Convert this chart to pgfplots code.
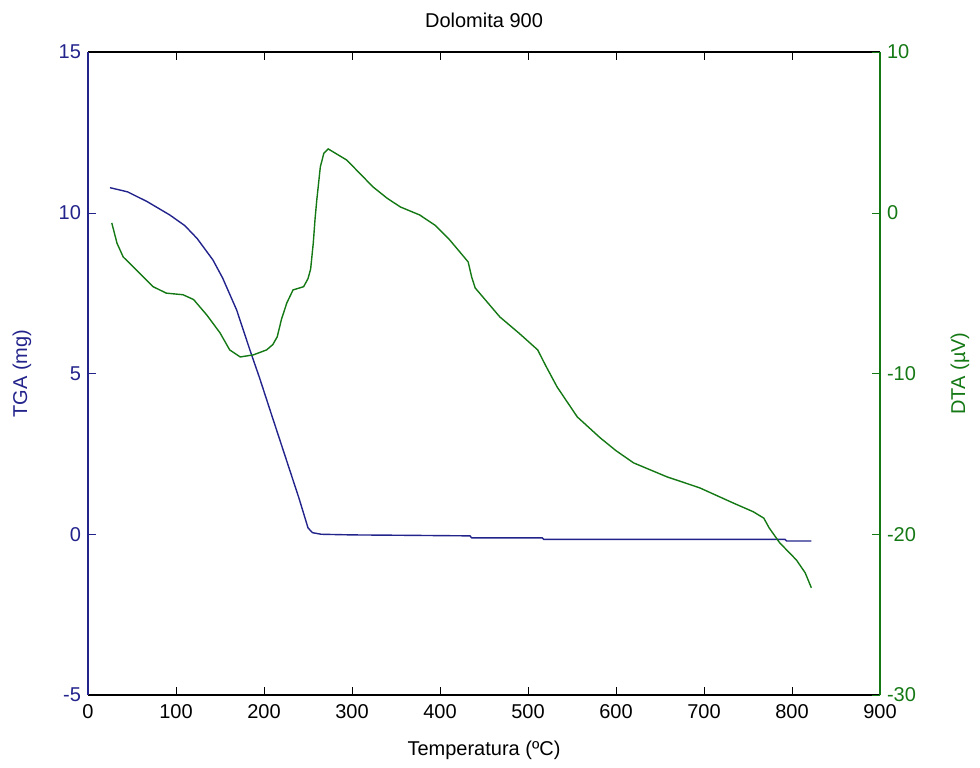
\documentclass[border=0pt]{standalone}
\usepackage{fontspec}
\setmainfont{Liberation Sans}
\usepackage{pgfplots}
\pgfplotsset{compat=1.18}

\definecolor{tgablue}{RGB}{35,35,140}
\definecolor{dtagreen}{RGB}{20,120,20}

\pgfplotstableread{
x y
25 10.78
45 10.65
67 10.35
93 9.93
110 9.6
124 9.2
142 8.53
153 7.97
169 6.97
184 5.73
195 4.86
210 3.6
225 2.35
240 1.1
250 0.2
255 0.05
265 0.0
300 -0.02
350 -0.03
434 -0.05
436 -0.11
516 -0.11
518 -0.16
792 -0.16
794 -0.21
822 -0.21
}\tga

\pgfplotstableread{
x y
27 -0.63
33 -1.9
40 -2.75
55 -3.56
74 -4.6
89 -5.0
108 -5.1
120 -5.4
135 -6.36
150 -7.47
161 -8.53
173 -8.97
188 -8.84
203 -8.53
210 -8.2
215 -7.72
220 -6.6
226 -5.6
233 -4.8
245 -4.6
250 -4.1
253 -3.5
256 -1.88
258 -0.4
260 0.8
264 2.85
268 3.7
273 3.97
294 3.28
324 1.6
340 0.9
355 0.36
377 -0.14
395 -0.8
411 -1.69
425 -2.6
432 -3.06
436 -4.0
440 -4.68
468 -6.48
490 -7.5
511 -8.53
520 -9.5
533 -10.83
556 -12.7
582 -14.0
600 -14.8
620 -15.56
658 -16.43
695 -17.11
733 -18.05
756 -18.6
768 -19.0
774 -19.6
786 -20.53
805 -21.6
815 -22.4
822 -23.33
}\dta

\begin{document}
\begin{tikzpicture}
\pgfplotsset{
  every axis/.append style={
    scale only axis,
    width=396pt, height=321.5pt,
    xmin=0, xmax=900,
    tick align=inside,
    major tick length=4pt,
    font=\fontsize{10}{12}\selectfont,
    /pgf/number format/assume math mode=true,
    scaled ticks=false,
  },
}
\begin{axis}[
  name=main,
  ymin=-5, ymax=15,
  ytick={-5,0,5,10,15},
  xtick={0,100,...,900},
  axis x line*=box,
  axis y line*=left,
  separate axis lines,
  every outer x axis line/.append style={black, line width=0.8pt},
  every outer y axis line/.append style={tgablue, line width=0.6pt},
  y tick style={tgablue},
  x tick style={black},
  yticklabel style={text=tgablue},
  xticklabel style={yshift=-1pt},
  title={Dolomita 900},
  title style={at={(rel axis cs:0.5,1)}, anchor=center, yshift=10pt},
  xlabel={Temperatura (ºC)},
  xlabel style={at={(rel axis cs:0.5,-0.0855)}, anchor=center},
  ylabel={TGA (mg)},
  ylabel style={at={(rel axis cs:-0.0833,0.5)}, anchor=center, text=tgablue},
]
\addplot[tgablue, line width=0.7pt] table[x=x,y=y] {\tga};
\end{axis}
\begin{axis}[
  ymin=-30, ymax=10,
  ytick={-30,-20,...,10},
  axis x line=none,
  axis y line*=right,
  every outer y axis line/.append style={dtagreen, line width=0.6pt},
  y tick style={dtagreen},
  yticklabel style={text=dtagreen},
  ylabel={DTA (µV)},
  ylabel style={at={(rel axis cs:1.101,0.5)}, anchor=center, text=dtagreen},
]
\addplot[dtagreen, line width=0.7pt] table[x=x,y=y] {\dta};
\end{axis}
\pgfresetboundingbox
\path ([shift={(-44pt,-36pt)}]main.south west) rectangle ([shift={(50pt,26pt)}]main.north east);
\end{tikzpicture}
\end{document}
